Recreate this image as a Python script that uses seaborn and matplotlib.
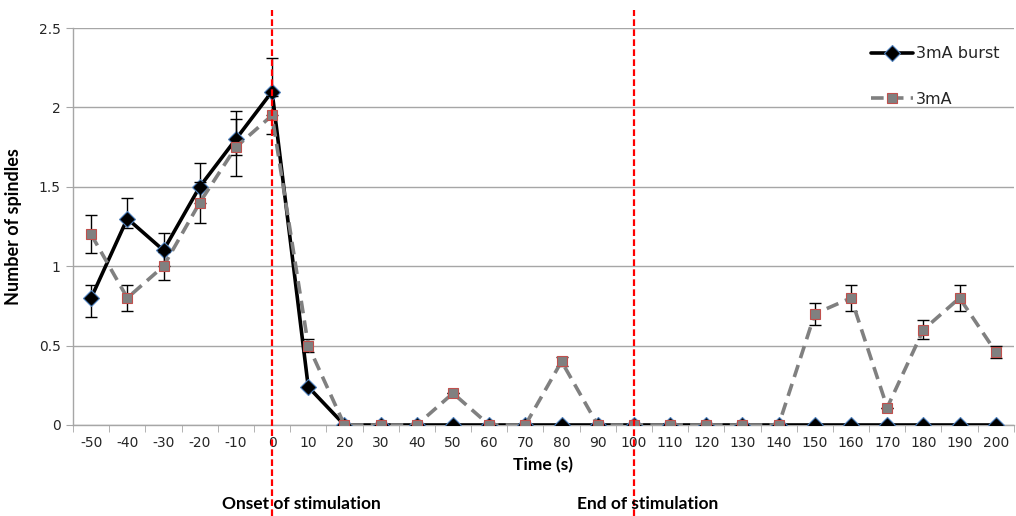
import numpy as np
import pandas as pd
import matplotlib
matplotlib.use('Agg')
import matplotlib.pyplot as plt
import seaborn as sns

# time points (s)
times = [-50, -40, -30, -20, -10, 0, 10, 20, 30, 40, 50, 60, 70, 80, 90,
         100, 110, 120, 130, 140, 150, 160, 170, 180, 190, 200]

burst = [0.8, 1.3, 1.1, 1.5, 1.8, 2.1, 0.24, 0, 0, 0, 0, 0, 0, 0, 0,
         0, 0, 0, 0, 0, 0, 0, 0, 0, 0, 0]
burst_lo = [0.12, 0.06, 0.1, 0.1, 0.1, 0.15, 0, 0, 0, 0, 0, 0, 0, 0, 0,
            0, 0, 0, 0, 0, 0, 0, 0, 0, 0, 0]
burst_hi = [0.08, 0.13, 0.11, 0.15, 0.18, 0.21, 0, 0, 0, 0, 0, 0, 0, 0, 0,
            0, 0, 0, 0, 0, 0, 0, 0, 0, 0, 0]

ma3 = [1.2, 0.8, 1.0, 1.4, 1.75, 1.95, 0.5, 0, 0, 0, 0.2, 0, 0, 0.4, 0,
       0, 0, 0, 0, 0, 0.7, 0.8, 0.11, 0.6, 0.8, 0.46]
ma3_err = [0.12, 0.08, 0.09, 0.13, 0.18, 0.12, 0.04, 0, 0, 0, 0, 0, 0, 0.03, 0,
           0, 0, 0, 0, 0, 0.07, 0.08, 0, 0.06, 0.08, 0.04]

pos = np.arange(len(times))
df_burst = pd.DataFrame({'pos': pos, 'val': burst})
df_3ma = pd.DataFrame({'pos': pos, 'val': ma3})

sns.set_style('white')
plt.rcParams['font.family'] = ['DejaVu Sans']

fig = plt.figure(figsize=(10.16, 5.16), dpi=100)
ax = fig.add_axes([0.0719, 0.1764, 0.926, 0.7693])

ax.yaxis.grid(True, color='#a6a6a6', linewidth=1)
ax.set_axisbelow(True)

# burst series
ax.errorbar(pos, burst, yerr=[burst_lo, burst_hi], fmt='none', ecolor='black',
            elinewidth=1, capsize=4, capthick=1, zorder=2)
sns.lineplot(data=df_burst, x='pos', y='val', ax=ax, color='black', linewidth=2.6,
             marker='D', markersize=8, markerfacecolor='black',
             markeredgecolor='#4f81bd', markeredgewidth=0.8, label='3mA burst', zorder=3)

# 3mA series
ax.errorbar(pos, ma3, yerr=ma3_err, fmt='none', ecolor='black',
            elinewidth=1, capsize=4, capthick=1, zorder=4)
sns.lineplot(data=df_3ma, x='pos', y='val', ax=ax, color='#808080', linewidth=2.6,
             marker='s', markersize=6.5, markerfacecolor='#808080',
             markeredgecolor='#c0504d', markeredgewidth=0.8, label='3mA', zorder=5)
ax.lines[-1].set_dashes([3.5, 2])

# onset / end of stimulation markers
for t in (0, 100):
    ax.axvline(times.index(t), ymin=-0.23, ymax=1.045, color='red',
               linewidth=1.6, linestyle=(0, (3, 1.5)), clip_on=False, zorder=6)

ax.set_xlim(-0.5, len(times) - 0.5)
ax.set_ylim(0, 2.5)
ax.set_xticks(pos)
ax.set_xticklabels([str(t) for t in times])
ax.set_xticks(np.arange(-0.5, len(times), 1), minor=True)
ax.tick_params(axis='x', which='major', length=0, pad=8, labelsize=10, colors='#262626')
ax.tick_params(axis='x', which='minor', length=5, color='#a6a6a6', direction='out')
yt = [0, 0.5, 1, 1.5, 2, 2.5]
ax.set_yticks(yt)
ax.set_yticklabels(['0', '0.5', '1', '1.5', '2', '2.5'])
ax.tick_params(axis='y', length=5, color='#a6a6a6', direction='out', labelsize=10,
               colors='#262626', pad=4)
ax.tick_params(axis='y', which='both', left=True)
ax.tick_params(axis='x', which='minor', bottom=True)

for s in ('top', 'right'):
    ax.spines[s].set_visible(False)
for s in ('left', 'bottom'):
    ax.spines[s].set_color('#a6a6a6')
    ax.spines[s].set_linewidth(1)

lab_font = dict(fontweight='bold', family='Lato', color='black')
ax.set_xlabel('Time (s)', fontsize=12.5, labelpad=5, **lab_font)
ax.set_ylabel('Number of spindles', fontsize=13, labelpad=12, **lab_font)

fig.text(301 / 1016, 1 - 504 / 516, 'Onset of stimulation', ha='center', va='center',
         fontsize=12.5, **lab_font)
fig.text(648 / 1016, 1 - 504 / 516, 'End of stimulation', ha='center', va='center',
         fontsize=12.5, **lab_font)

leg = ax.legend(loc='upper right', bbox_to_anchor=(1.0, 0.99), frameon=False,
                fontsize=11.5, labelspacing=1.9, handlelength=2.6, handletextpad=0.2)

fig.savefig('out.png', dpi=100)
